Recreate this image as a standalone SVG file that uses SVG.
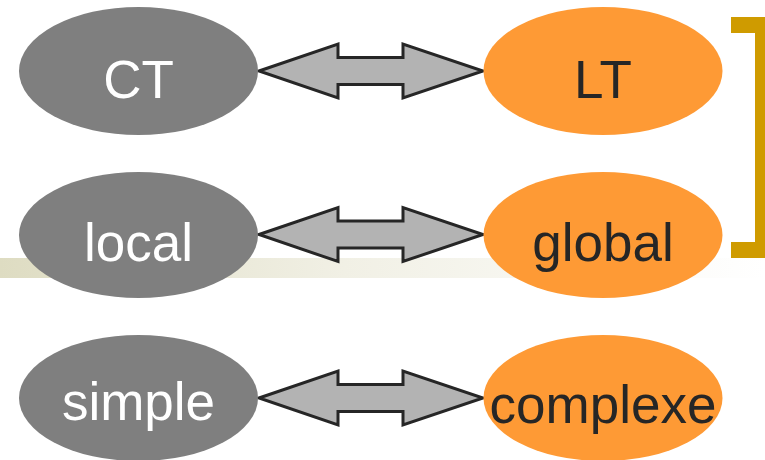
<svg xmlns="http://www.w3.org/2000/svg" width="765" height="460" viewBox="0 0 765 460">
  <style>
    .gray ellipse { fill: #7f7f7f; }
    .orange ellipse { fill: #fe9a35; }
    .lbl { font-family: "Liberation Sans", Arial, sans-serif; font-size: 53px; text-anchor: middle; }
    .gray text { fill: #ffffff; }
    .orange text { fill: #262626; }
    .dbl { fill: #b3b3b3; stroke: #262626; stroke-width: 3; stroke-linejoin: miter; }
  </style>
  <defs>
    <linearGradient id="bandGrad" x1="0" y1="0" x2="1" y2="0">
      <stop offset="0" stop-color="#dedcc2"/>
      <stop offset="0.45" stop-color="#f1f0e5"/>
      <stop offset="1" stop-color="#ffffff"/>
    </linearGradient>
    <polygon id="dblArrow" class="dbl" points="259,0 338,-27 338,-13.5 403,-13.5 403,-27 483,0 403,27 403,13.5 338,13.5 338,27"/>
  </defs>

  <rect width="765" height="460" fill="#ffffff"/>

  <!-- decorative band -->
  <rect x="0" y="258" width="765" height="20" fill="url(#bandGrad)"/>

  <!-- bracket on the right -->
  <path d="M731,17 H765 V258 H731 V242 H755 V33 H731 Z" fill="#cf9b00"/>

  <g id="connectors">
    <use href="#dblArrow" transform="translate(0,71)"/>
    <use href="#dblArrow" transform="translate(0,234.5)"/>
    <use href="#dblArrow" transform="translate(0,398)"/>
  </g>

  <g id="node-ct" class="gray">
    <ellipse cx="138.5" cy="71" rx="119.5" ry="64"/>
    <text class="lbl" x="138.5" y="98">CT</text>
  </g>
  <g id="node-lt" class="orange">
    <ellipse cx="603" cy="71" rx="119.5" ry="64"/>
    <text class="lbl" x="603" y="98">LT</text>
  </g>
  <g id="node-local" class="gray">
    <ellipse cx="138.5" cy="235" rx="119.5" ry="63"/>
    <text class="lbl" x="138.5" y="261">local</text>
  </g>
  <g id="node-global" class="orange">
    <ellipse cx="603" cy="235" rx="119.5" ry="63"/>
    <text class="lbl" x="603" y="261">global</text>
  </g>
  <g id="node-simple" class="gray">
    <ellipse cx="138.5" cy="398" rx="119.5" ry="63"/>
    <text class="lbl" x="138.5" y="420">simple</text>
  </g>
  <g id="node-complexe" class="orange">
    <ellipse cx="603" cy="398" rx="119.5" ry="63"/>
    <text class="lbl" x="603" y="423">complexe</text>
  </g>
</svg>
